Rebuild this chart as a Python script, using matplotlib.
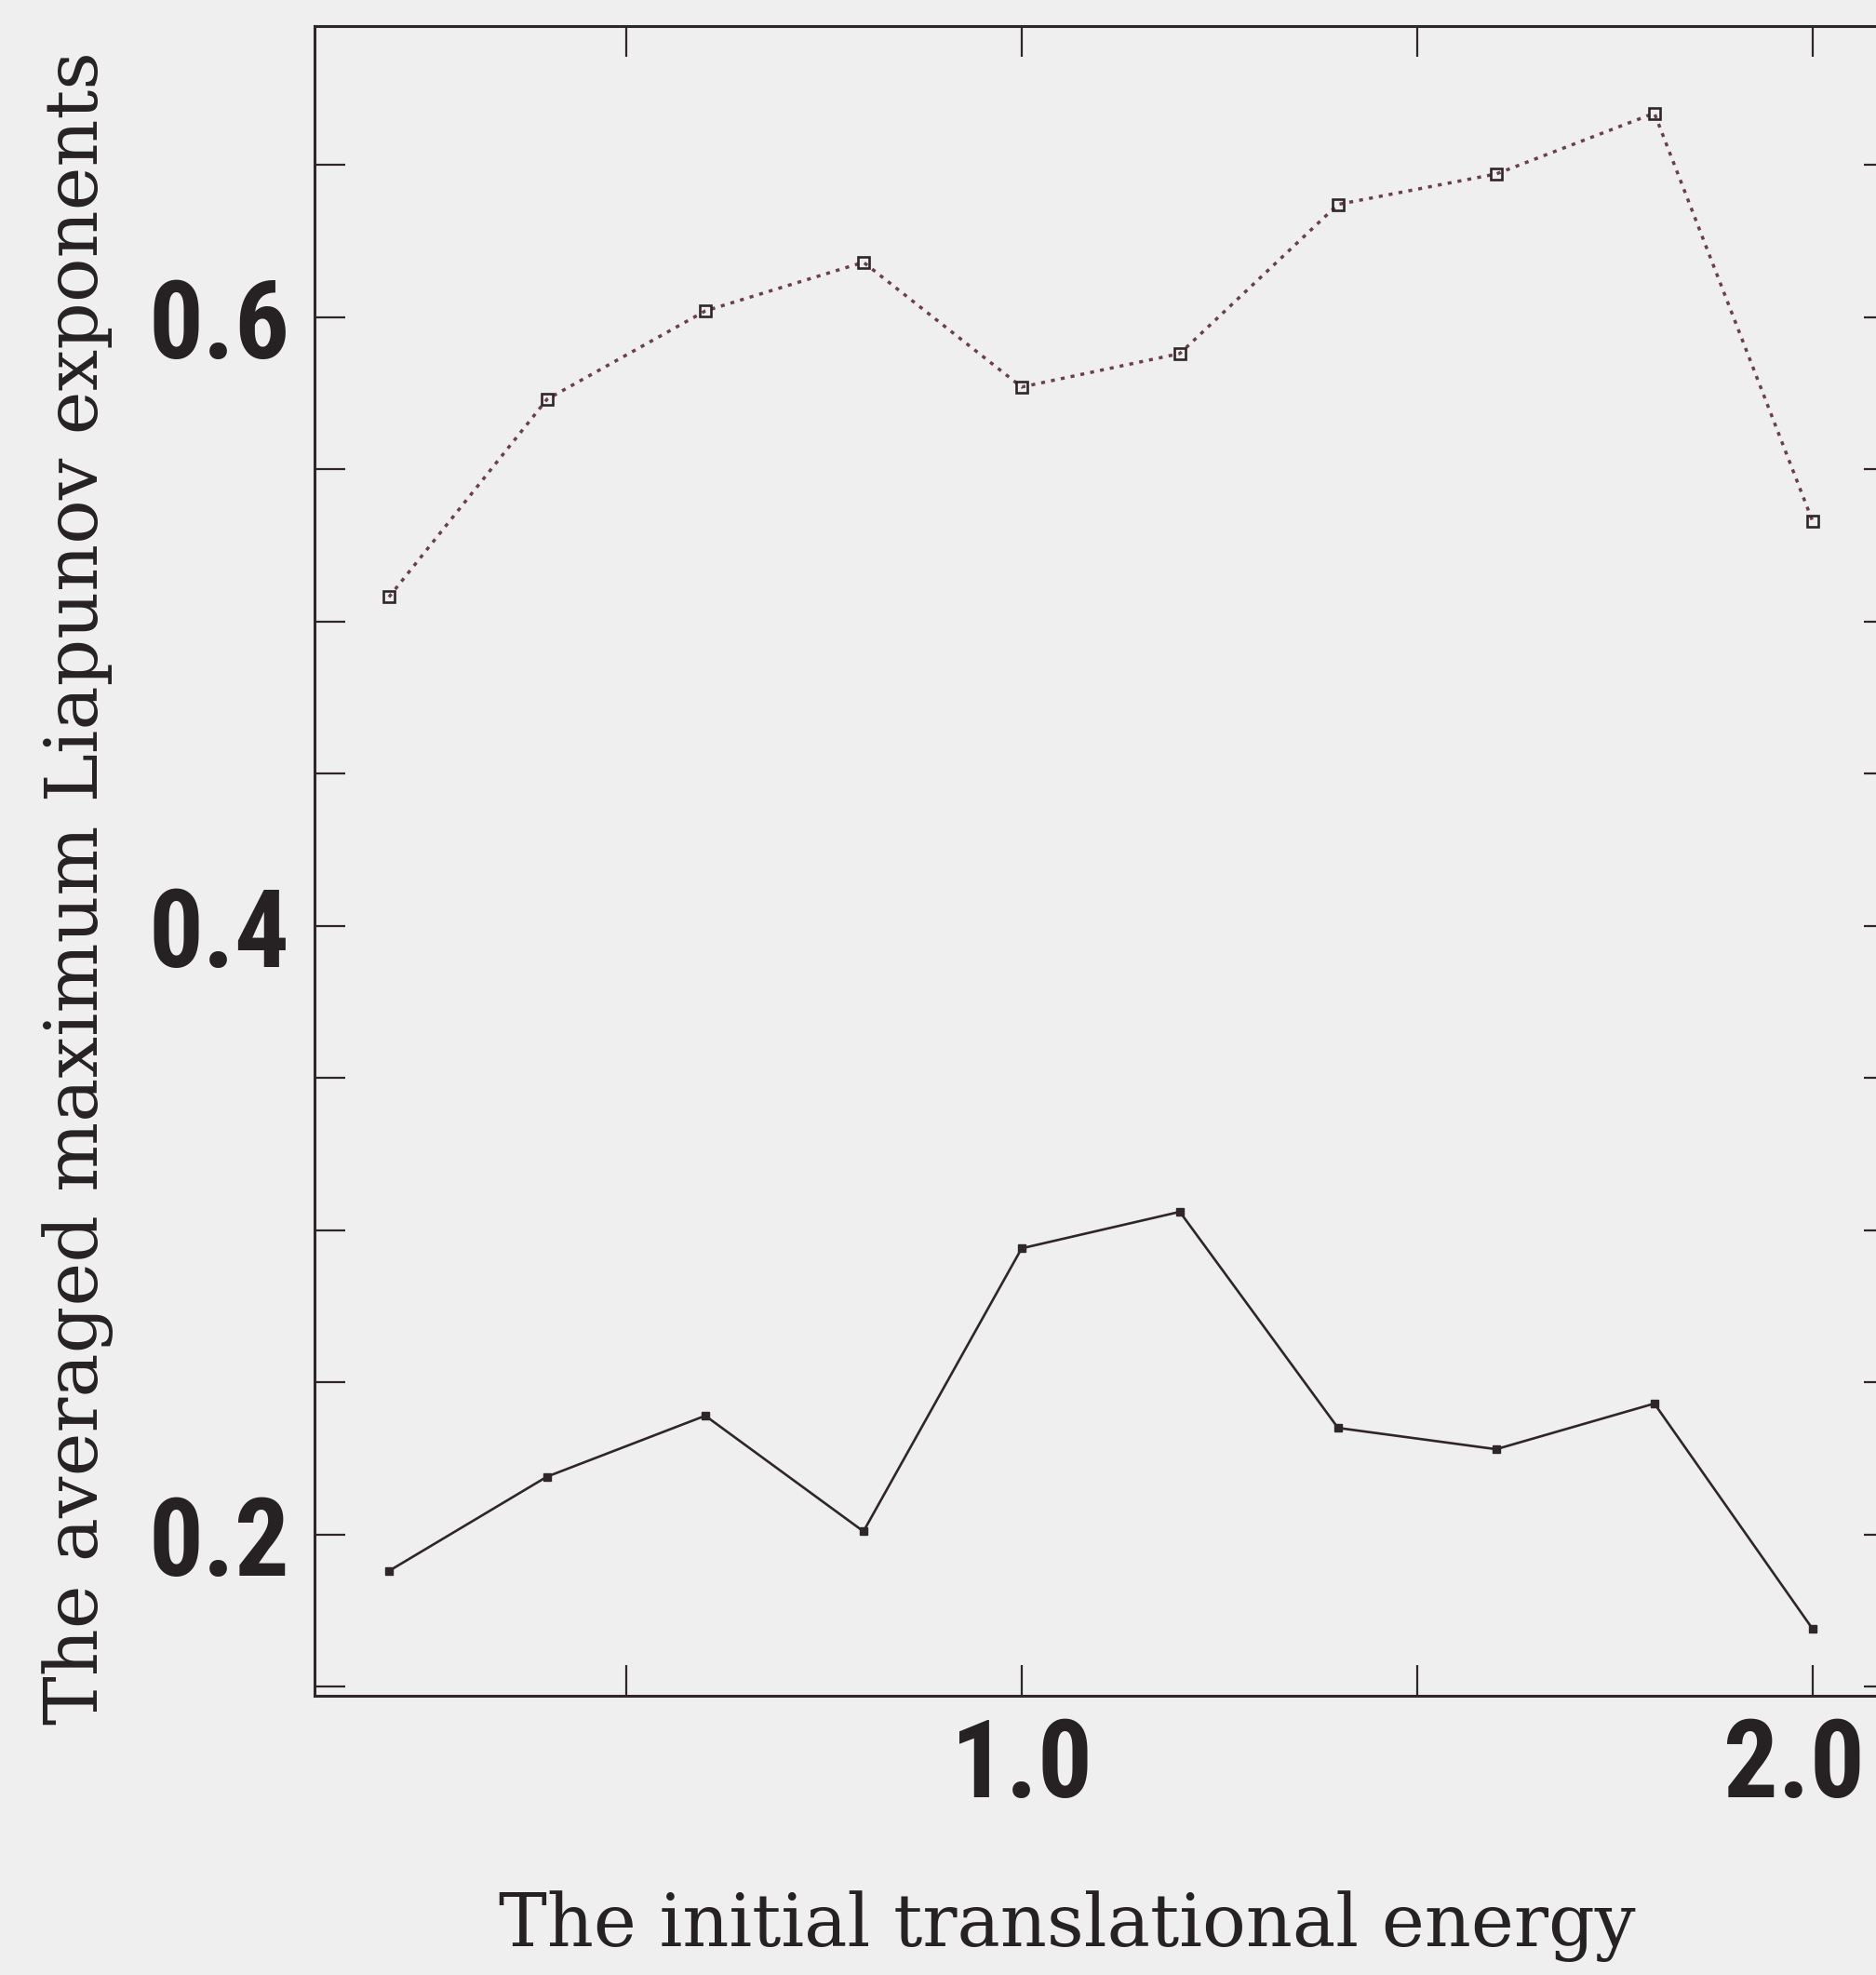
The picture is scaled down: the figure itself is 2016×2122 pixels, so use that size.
import matplotlib
matplotlib.use('Agg')
import matplotlib.pyplot as plt
from matplotlib import font_manager as fm
from matplotlib import transforms
import numpy as np

# initial translational energy
energy = [0.2, 0.4, 0.6, 0.8, 1.0, 1.2, 1.4, 1.6, 1.8, 2.0]
# averaged maximum Liapunov exponents, two sets of runs
upper = [0.508, 0.573, 0.602, 0.618, 0.577, 0.588, 0.637, 0.647, 0.667, 0.533]
lower = [0.188, 0.219, 0.239, 0.201, 0.294, 0.306, 0.235, 0.228, 0.243, 0.169]

xticks = [0.5, 1.0, 1.5, 2.0]
xticklabels = ['', '1.0', '', '2.0']
yticks = [0.15, 0.2, 0.25, 0.3, 0.35, 0.4, 0.45, 0.5, 0.55, 0.6, 0.65]
yticklabels = ['', '0.2', '', '', '', '0.4', '', '', '', '0.6', '']

bg = '#f0eff0'
ink = '#2e2628'


def narrow_bold():
    # pick a condensed bold sans for the tick numbers, if one is installed
    fonts = fm.fontManager.ttflist
    names = {f.name for f in fonts}
    for name in ['Liberation Sans Narrow', 'Roboto Condensed', 'Open Sans Condensed',
                 'Arial Narrow', 'Nimbus Sans Narrow']:
        if name in names:
            return dict(family=name, stretch='normal')
    for name in ['Noto Sans', 'DejaVu Sans', 'Open Sans', 'Roboto']:
        for f in fonts:
            if f.name == name and f.stretch not in ('normal', 500):
                return dict(family=name, stretch=f.stretch)
    return dict(family='Liberation Sans', stretch='normal')


def main():
    tick_font = narrow_bold()

    fig = plt.figure(figsize=(20.16, 21.22), dpi=100, facecolor=bg)
    ax = fig.add_axes([0.1677, 0.1414, 0.8423, 0.8454], facecolor=bg)

    ax.plot(energy, upper, linestyle=(0, (1.2, 1.9)), color='#6a4048', linewidth=2.5,
            marker='s', markersize=8, markerfacecolor='none',
            markeredgecolor=ink, markeredgewidth=1.9)
    ax.plot(energy, lower, linestyle='-', color=ink, linewidth=1.9,
            marker='s', markersize=5.5, markerfacecolor=ink, markeredgecolor=ink)

    ax.set_xlim(0.106, 2.104)
    ax.set_ylim(0.147, 0.6956)

    ax.set_xticks(xticks)
    ax.set_xticklabels(xticklabels)
    ax.set_yticks(yticks)
    ax.set_yticklabels(yticklabels)

    ax.tick_params(direction='in', length=24, width=1.6, color=ink,
                   top=True, right=True)
    ax.tick_params(axis='y', pad=19)
    ax.tick_params(axis='x', pad=15)
    for lab in ax.get_xticklabels() + ax.get_yticklabels():
        lab.set_family([tick_font['family'], 'DejaVu Sans'])
        lab.set_stretch(tick_font['stretch'])
        lab.set_fontweight('bold')
        lab.set_fontsize(84)
        lab.set_color('#262224')

    # last x label sits a little left of its tick
    last = ax.get_xticklabels()[-1]
    last.set_transform(last.get_transform() +
                       transforms.ScaledTranslation(-0.2, 0, fig.dpi_scale_trans))

    for sp in ax.spines.values():
        sp.set_linewidth(2.2)
        sp.set_color(ink)

    ax.set_xlabel('The initial translational energy', family='DejaVu Serif',
                  fontsize=56, color='#262224', va='center', ha='center')
    ax.xaxis.set_label_coords(0.4764, -0.138)
    ax.set_ylabel('The averaged maximum Liapunov exponents', family='DejaVu Serif',
                  fontsize=57, color='#262224', va='center', ha='center')
    ax.yaxis.set_label_coords(-0.1496, 0.4838)

    fig.savefig('out.png', dpi=100, facecolor=bg)


if __name__ == '__main__':
    main()
